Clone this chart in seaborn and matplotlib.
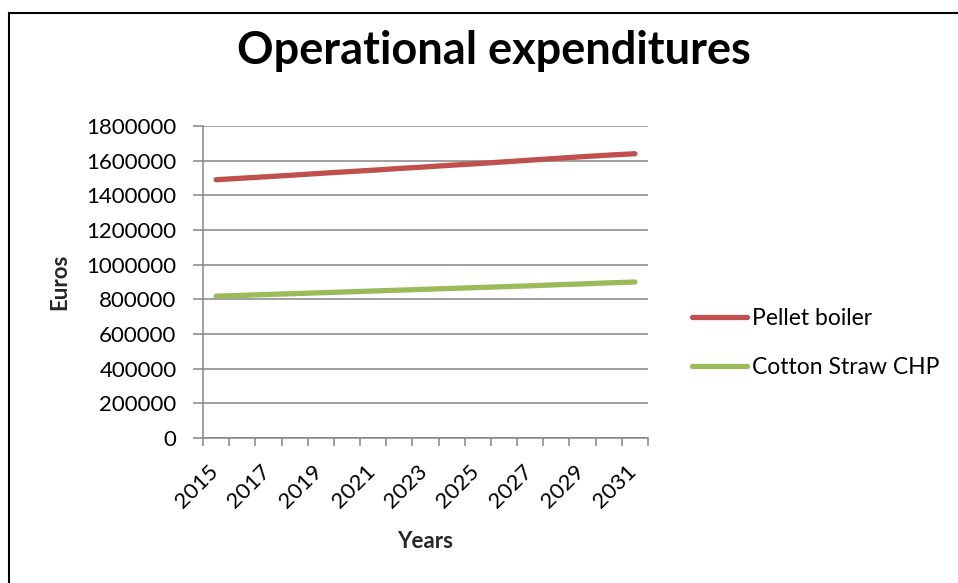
import numpy as np
import pandas as pd
import seaborn as sns
import matplotlib.pyplot as plt
from matplotlib.patches import Rectangle
from matplotlib.transforms import ScaledTranslation

years = list(range(2015, 2032))
pellet_boiler = [1490000, 1499000, 1508000, 1517000, 1527000, 1536000, 1545000, 1555000, 1564000,
                 1574000, 1583000, 1593000, 1603000, 1613000, 1623000, 1632000, 1640000]
cotton_straw_chp = [818000, 823000, 828000, 833000, 838000, 843000, 848000, 853000, 858000,
                    863000, 868000, 873000, 878000, 884000, 889000, 895000, 900000]
series_names = ["Pellet boiler", "Cotton Straw CHP"]
colors = ["#C0504D", "#9BBB59"]

data = pd.DataFrame({
    "year": years * 2,
    "value": pellet_boiler + cotton_straw_chp,
    "series": [series_names[0]] * len(years) + [series_names[1]] * len(years),
})

sns.set_theme(style="white")
plt.rcParams['font.family'] = ['Lato', 'DejaVu Sans']
plt.rcParams['text.color'] = 'black'
grey = "#868686"

fig = plt.figure(figsize=(9.58, 5.83), dpi=100)
ax = fig.add_axes([203 / 958, 1 - 438 / 583, 445 / 958, 312 / 583])

sns.lineplot(data=data, x="year", y="value", hue="series", hue_order=series_names,
             palette=colors, linewidth=3.8, ax=ax, legend=False)
for line in ax.lines:
    line.set_solid_capstyle("round")

ax.set_ylim(0, 1800000)
ax.set_yticks(np.arange(0, 1800001, 200000))
ax.set_yticklabels([str(v) for v in range(0, 1800001, 200000)])
ax.set_xlim(years[0] - 0.5, years[-1] + 0.5)
ax.set_xticks(years[::2])
ax.set_xticklabels([str(y) for y in years[::2]], rotation=45, ha="right", va="top",
                   rotation_mode="anchor")
ax.set_xticks([y - 0.5 for y in years] + [years[-1] + 0.5], minor=True)

ax.yaxis.grid(True, color=grey, linewidth=1.1)
ax.xaxis.grid(False)
ax.set_axisbelow(True)
for side in ["top", "right"]:
    ax.spines[side].set_visible(False)
for side in ["left", "bottom"]:
    ax.spines[side].set_color(grey)
    ax.spines[side].set_linewidth(1.1)

ax.tick_params(axis="y", which="major", length=7, width=1.1, color=grey, labelsize=16, pad=12,
               left=True, labelcolor="black")
ax.tick_params(axis="x", which="major", length=0, labelsize=16, pad=17, labelcolor="black")
ax.tick_params(axis="x", which="minor", length=6, width=1.1, color=grey, bottom=True)
shift = ScaledTranslation(-6 / 72, 0, fig.dpi_scale_trans)
for lab in ax.get_xticklabels():
    lab.set_transform(lab.get_transform() + shift)

ax.set_xlabel("Years", fontsize=16, fontweight="bold")
ax.set_ylabel("Euros", fontsize=16, fontweight="bold")
ax.xaxis.set_label_coords((425 - 203) / 445, -(531 - 438) / 312)
ax.yaxis.set_label_coords((70 - 203) / 445, (438 - 282) / 312)

fig.text(494 / 958, 1 - 30 / 583, "Operational expenditures", fontsize=32.5, fontweight="bold",
         ha="center", va="top")

handles = [plt.Line2D([0], [0], color=c, linewidth=3.8, solid_capstyle="round") for c in colors]
fig.legend(handles, series_names, loc="center left", bbox_to_anchor=(683 / 958, 1 - 343 / 583),
           frameon=False, fontsize=16.5, handlelength=2.4, handletextpad=0.2, labelspacing=1.25,
           borderaxespad=0)

fig.patches.append(Rectangle((9 / 958, -0.05), 1.1, 1 - 13 / 583 + 0.05, transform=fig.transFigure,
                             fill=False, edgecolor="black", linewidth=1.5))

fig.savefig("out.png", dpi=100)
